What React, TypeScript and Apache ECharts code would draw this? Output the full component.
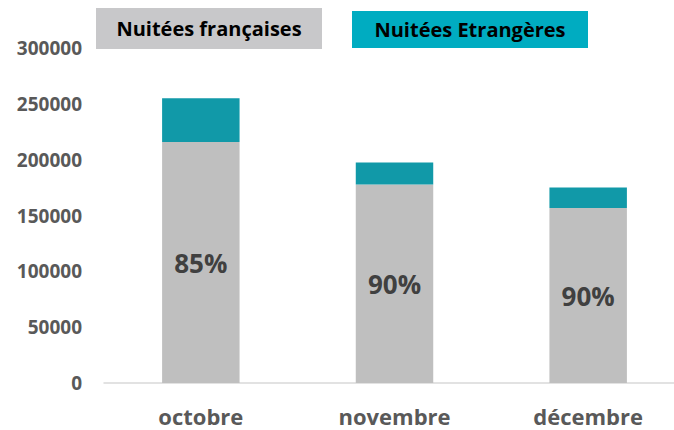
import React, { useEffect, useRef } from "react";
import * as echarts from "echarts";

const categories = ["octobre", "novembre", "décembre"];
const francaises = [215800, 177700, 156700];
const etrangeres = [39200, 19700, 18300];
const pctLabels = ["85%", "90%", "90%"];
const yTicks = [0, 50000, 100000, 150000, 200000, 250000, 300000];
const legendNames = ["Nuitées françaises", "Nuitées Etrangères"];

const FONT = "'Open Sans', sans-serif";

export default function App() {
  const ref = useRef<HTMLDivElement>(null);
  useEffect(() => {
    if (!ref.current) return;
    const chart = echarts.init(ref.current, null, { renderer: "svg" });
    chart.setOption({
      animation: false,
      backgroundColor: "#ffffff",
      grid: { left: 104, right: 0, top: 48, bottom: 47, containLabel: false },
      xAxis: {
        type: "category",
        data: categories,
        axisLine: { show: true, lineStyle: { color: "#d9d9d9", width: 1.5 } },
        axisTick: { show: false },
        axisLabel: {
          color: "#595959",
          fontSize: 22,
          fontWeight: "bold",
          fontFamily: FONT,
          margin: 22,
        },
      },
      yAxis: {
        type: "value",
        min: yTicks[0],
        max: yTicks[yTicks.length - 1],
        interval: 50000,
        splitLine: { show: false },
        axisLine: { show: false },
        axisTick: { show: false },
        axisLabel: {
          color: "#595959",
          fontSize: 19,
          fontWeight: "bold",
          fontFamily: FONT,
          margin: 22,
          formatter: (v: number) => String(v),
        },
      },
      series: [
        {
          name: legendNames[0],
          type: "bar",
          stack: "total",
          barWidth: "40%",
          data: francaises,
          itemStyle: { color: "#bfbfbf" },
          label: {
            show: true,
            position: "inside",
            formatter: (p: any) => pctLabels[p.dataIndex],
            color: "#404040",
            fontSize: 26,
            fontWeight: "bold",
            fontFamily: FONT,
          },
        },
        {
          name: legendNames[1],
          type: "bar",
          stack: "total",
          barWidth: "40%",
          data: etrangeres,
          itemStyle: { color: "#1199a8" },
        },
      ],
      graphic: [
        {
          type: "group",
          left: 96,
          top: 8,
          children: [
            { type: "rect", shape: { x: 0, y: 0, width: 226, height: 41 }, style: { fill: "#c8c8ca" } },
            {
              type: "text",
              x: 113,
              y: 20.5,
              style: {
                text: legendNames[0],
                fill: "#000000",
                font: `bold 20px ${FONT}`,
                align: "center",
                verticalAlign: "middle",
              },
            },
          ],
        },
        {
          type: "group",
          left: 352,
          top: 11,
          children: [
            { type: "rect", shape: { x: 0, y: 0, width: 236, height: 37 }, style: { fill: "#00acc1" } },
            {
              type: "text",
              x: 118,
              y: 18.5,
              style: {
                text: legendNames[1],
                fill: "#000000",
                font: `bold 20px ${FONT}`,
                align: "center",
                verticalAlign: "middle",
              },
            },
          ],
        },
      ],
    });
    return () => chart.dispose();
  }, []);
  return (
    <div style={{ width: 674, height: 430, position: "absolute", left: 0, top: 0, overflow: "hidden" }}>
      <div ref={ref} style={{ width: 685, height: 430 }} />
    </div>
  );
}
